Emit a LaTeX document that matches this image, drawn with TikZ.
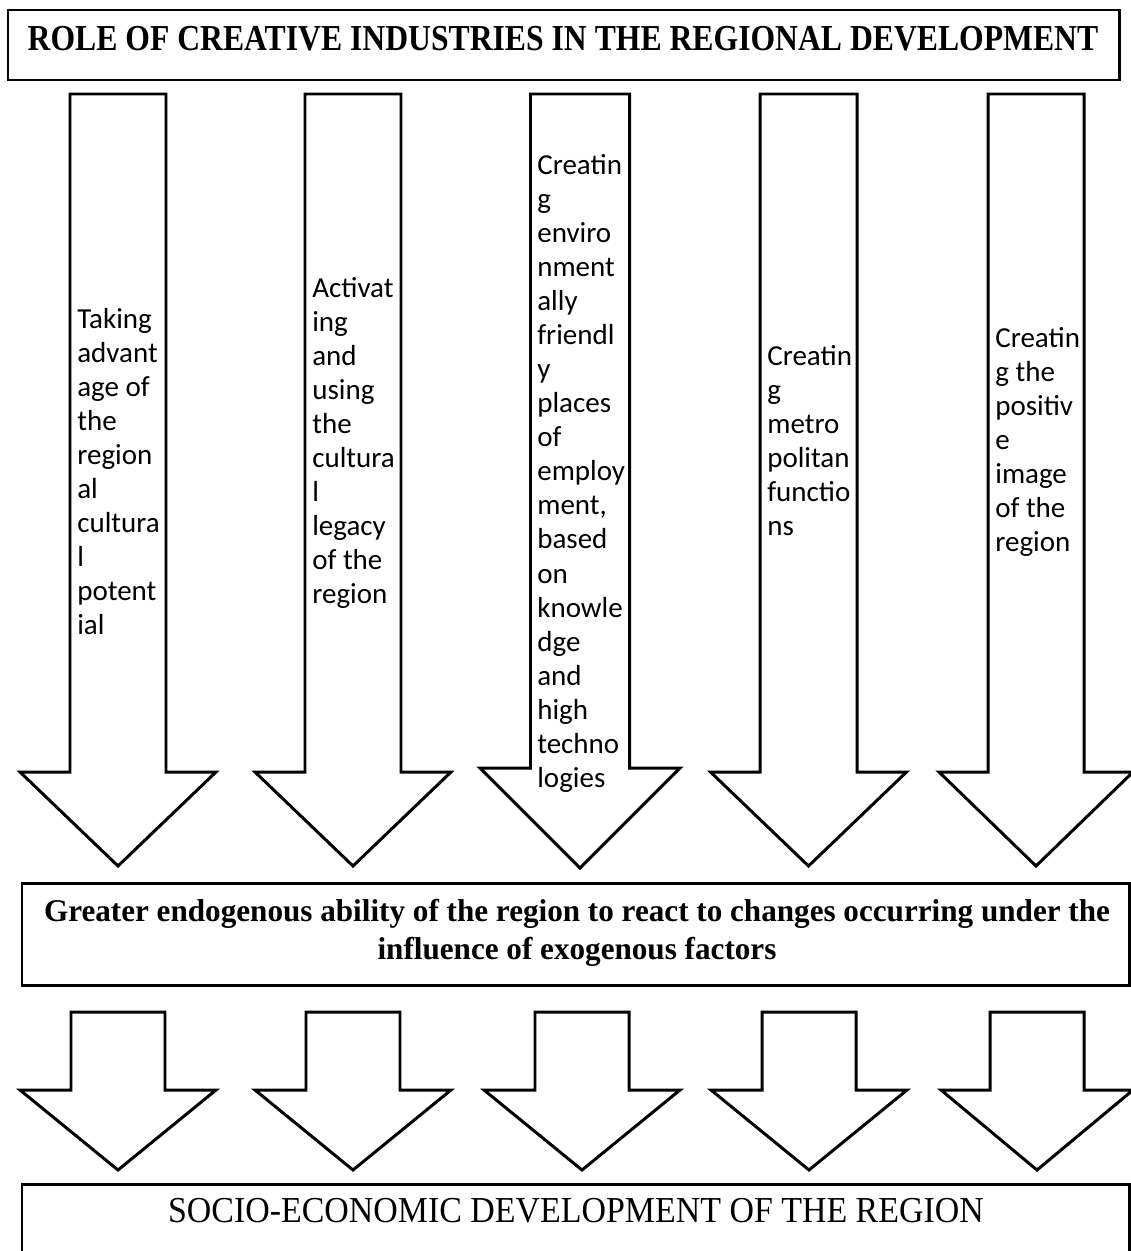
\documentclass[tikz,border=0pt]{standalone}
\usepackage{fontspec}
\setmainfont{Liberation Serif}
\newfontfamily\labelfont{Carlito}

% hollow block arrow pointing down: centre x, top y, head y, tip y, half shaft, half head
\newcommand\blockdown[6]{%
  \draw[blockarrow] (#1-#5,#2) -- (#1+#5,#2) -- (#1+#5,#3) -- (#1+#6,#3)
    -- (#1,#4) -- (#1-#6,#3) -- (#1-#5,#3) -- cycle;}

% left-aligned stack of lines whose baseline is that of the first line
\newcommand\lines[1]{\begin{tabular}[t]{@{}l@{}}#1\end{tabular}}

\begin{document}
\begin{tikzpicture}[x=0.02cm,y=-0.02cm,
  frame/.style={draw=black,line width=1.7pt},
  blockarrow/.style={draw=black,line width=1.7pt,fill=white,line join=miter},
  lbl/.style={inner sep=0pt,anchor=base west,text=black,
    font=\labelfont\fontsize{16.5}{19.4}\selectfont},
  headtxt/.style={inner sep=0pt,anchor=base,text=black}
]
\useasboundingbox (0,0) rectangle (1131,1251);

% top box
\draw[frame] (8,10) rectangle (1119,80);
\node[headtxt,font=\bfseries\fontsize{20.8}{24}\selectfont] (title) at (563,50)
  {\scalebox{0.867}[1]{ROLE OF CREATIVE INDUSTRIES IN THE REGIONAL DEVELOPMENT}};

% first row of arrows
\blockdown{118}{94}{772}{866}{48}{98}
\blockdown{353}{94}{772}{866}{48}{98}
\blockdown{580}{94}{768}{868}{49.5}{100}
\blockdown{808.5}{94}{772}{866}{48.5}{98}
\blockdown{1036}{94}{772}{866}{48}{97}

\node[lbl] (a1) at (77,328) {\lines{Taking\\advant\\age of\\the\\region\\al\\cultura\\l\\potent\\ial}};
\node[lbl] (a2) at (312,297) {\lines{Activat\\ing\\and\\using\\the\\cultura\\l\\legacy\\of the\\region}};
\node[lbl] (a3) at (537,174) {\lines{Creatin\\g\\enviro\\nment\\ally\\friendl\\y\\places\\of\\employ\\ment,\\based\\on\\knowle\\dge\\and\\high\\techno\\logies}};
\node[lbl] (a4) at (767,365) {\lines{Creatin\\g\\metro\\politan\\functio\\ns}};
\node[lbl] (a5) at (995,347) {\lines{Creatin\\g the\\positiv\\e\\image\\of the\\region}};

% middle box
\draw[frame] (22,883) rectangle (1129,985);
\node[headtxt,font=\bfseries\fontsize{18}{21.5}\selectfont,align=center] (mid) at (577,959)
  {\scalebox{0.985}[1]{Greater endogenous ability of the region to react to changes occurring under the}\\
   \scalebox{0.985}[1]{influence of exogenous factors}};

% second row of arrows
\blockdown{118}{1012}{1090}{1170}{47}{98}
\blockdown{353}{1012}{1090}{1170}{47}{98}
\blockdown{582}{1012}{1090}{1170}{47}{98}
\blockdown{809}{1012}{1090}{1170}{47}{98}
\blockdown{1037}{1012}{1090}{1170}{47}{96}

% bottom box
\draw[frame] (22,1184) rectangle (1129,1265);
\node[headtxt,font=\fontsize{20.8}{24}\selectfont] (goal) at (576,1222)
  {\scalebox{0.928}[1]{SOCIO-ECONOMIC DEVELOPMENT OF THE REGION}};
\end{tikzpicture}
\end{document}
